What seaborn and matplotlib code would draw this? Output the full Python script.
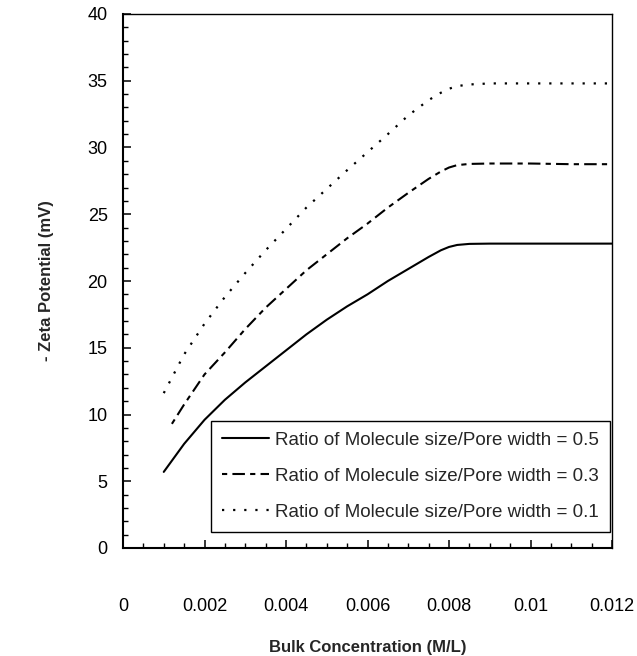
import matplotlib
matplotlib.use("Agg")
import matplotlib.pyplot as plt
import seaborn as sns
from matplotlib.ticker import FixedLocator, MultipleLocator

# ---- data ----
x_05 = [0.001, 0.0015, 0.002, 0.0025, 0.003, 0.0035, 0.004, 0.0045, 0.005, 0.0055,
        0.006, 0.0065, 0.007, 0.0075, 0.0078, 0.008, 0.0082, 0.0085, 0.009, 0.010, 0.011, 0.012]
y_05 = [5.7, 7.8, 9.6, 11.1, 12.4, 13.6, 14.8, 16.0, 17.1, 18.1,
        19.0, 20.0, 20.9, 21.8, 22.3, 22.55, 22.7, 22.78, 22.8, 22.8, 22.8, 22.8]

x_03 = [0.0012, 0.0015, 0.002, 0.0025, 0.003, 0.0035, 0.004, 0.0045, 0.005, 0.0055,
        0.006, 0.0065, 0.007, 0.0075, 0.0078, 0.008, 0.0082, 0.0085, 0.009, 0.010, 0.011, 0.012]
y_03 = [9.3, 10.75, 13.0, 14.65, 16.4, 18.0, 19.4, 20.8, 22.0, 23.2,
        24.3, 25.5, 26.6, 27.65, 28.2, 28.5, 28.68, 28.77, 28.8, 28.8, 28.75, 28.75]

x_01 = [0.001, 0.0015, 0.002, 0.0025, 0.003, 0.0035, 0.004, 0.0045, 0.005, 0.0055,
        0.006, 0.0065, 0.007, 0.0075, 0.0078, 0.008, 0.0082, 0.0085, 0.009, 0.010, 0.011, 0.012]
y_01 = [11.6, 14.5, 16.8, 18.8, 20.6, 22.3, 23.9, 25.5, 26.9, 28.3,
        29.65, 31.0, 32.4, 33.55, 34.1, 34.4, 34.6, 34.72, 34.8, 34.8, 34.8, 34.8]

series_labels = ["Ratio of Molecule size/Pore width = 0.5",
                 "Ratio of Molecule size/Pore width = 0.3",
                 "Ratio of Molecule size/Pore width = 0.1"]

x_ticks = [0, 0.002, 0.004, 0.006, 0.008, 0.01, 0.012]
x_tick_labels = ["0", "0.002", "0.004", "0.006", "0.008", "0.01", "0.012"]
y_ticks = [0, 5, 10, 15, 20, 25, 30, 35, 40]
y_tick_labels = ["0", "5", "10", "15", "20", "25", "30", "35", "40"]

x_label = "Bulk Concentration (M/L)"
y_label = "- Zeta Potential (mV)"

# ---- style ----
sns.set_style("ticks")
plt.rcParams['font.family'] = ['Liberation Sans', 'DejaVu Sans']

fig = plt.figure(figsize=(6.37, 6.56), dpi=100)
ax = fig.add_axes([123/637, 1 - 548/656, (612-123)/637, (548-14)/656])

lw = 1.5
sns.lineplot(x=x_05, y=y_05, ax=ax, color="black", lw=lw, label=series_labels[0])
sns.lineplot(x=x_03, y=y_03, ax=ax, color="black", lw=lw, label=series_labels[1],
             linestyle=(0, (2.5, 2.5, 6, 2.5)))
sns.lineplot(x=x_01, y=y_01, ax=ax, color="black", lw=1.6, label=series_labels[2],
             linestyle=(0, (1, 4)))

ax.set_xlim(0, 0.012)
ax.set_ylim(0, 40)
ax.xaxis.set_major_locator(FixedLocator(x_ticks))
ax.set_xticklabels(x_tick_labels)
ax.yaxis.set_major_locator(FixedLocator(y_ticks))
ax.set_yticklabels(y_tick_labels)
ax.xaxis.set_minor_locator(MultipleLocator(0.0005))
ax.yaxis.set_minor_locator(MultipleLocator(1))

ax.tick_params(axis='both', which='major', direction='in', length=6, width=1.1,
               labelsize=13, color='black', labelcolor='black')
ax.tick_params(axis='both', which='minor', direction='in', length=3.5, width=1.0,
               color='black')
ax.tick_params(axis='x', which='major', pad=36)
ax.tick_params(axis='y', which='major', pad=11)

for side in ['left', 'bottom']:
    ax.spines[side].set_linewidth(1.5)
    ax.spines[side].set_color('black')
for side in ['top', 'right']:
    ax.spines[side].set_linewidth(1.0)
    ax.spines[side].set_color('black')

ax.set_xlabel(x_label, fontsize=12, fontweight='bold', labelpad=18)
ax.set_ylabel(y_label, fontsize=12, fontweight='bold', labelpad=24)

leg = ax.legend(loc='lower right', bbox_to_anchor=(0.996, 0.03), borderaxespad=0,
                fontsize=13.5, frameon=True, fancybox=False, edgecolor='black',
                handlelength=2.5, handletextpad=0.3, labelspacing=1.0,
                borderpad=0.6)
leg.get_frame().set_linewidth(1.0)
leg.get_frame().set_alpha(1)

fig.savefig("out.png", dpi=100)
